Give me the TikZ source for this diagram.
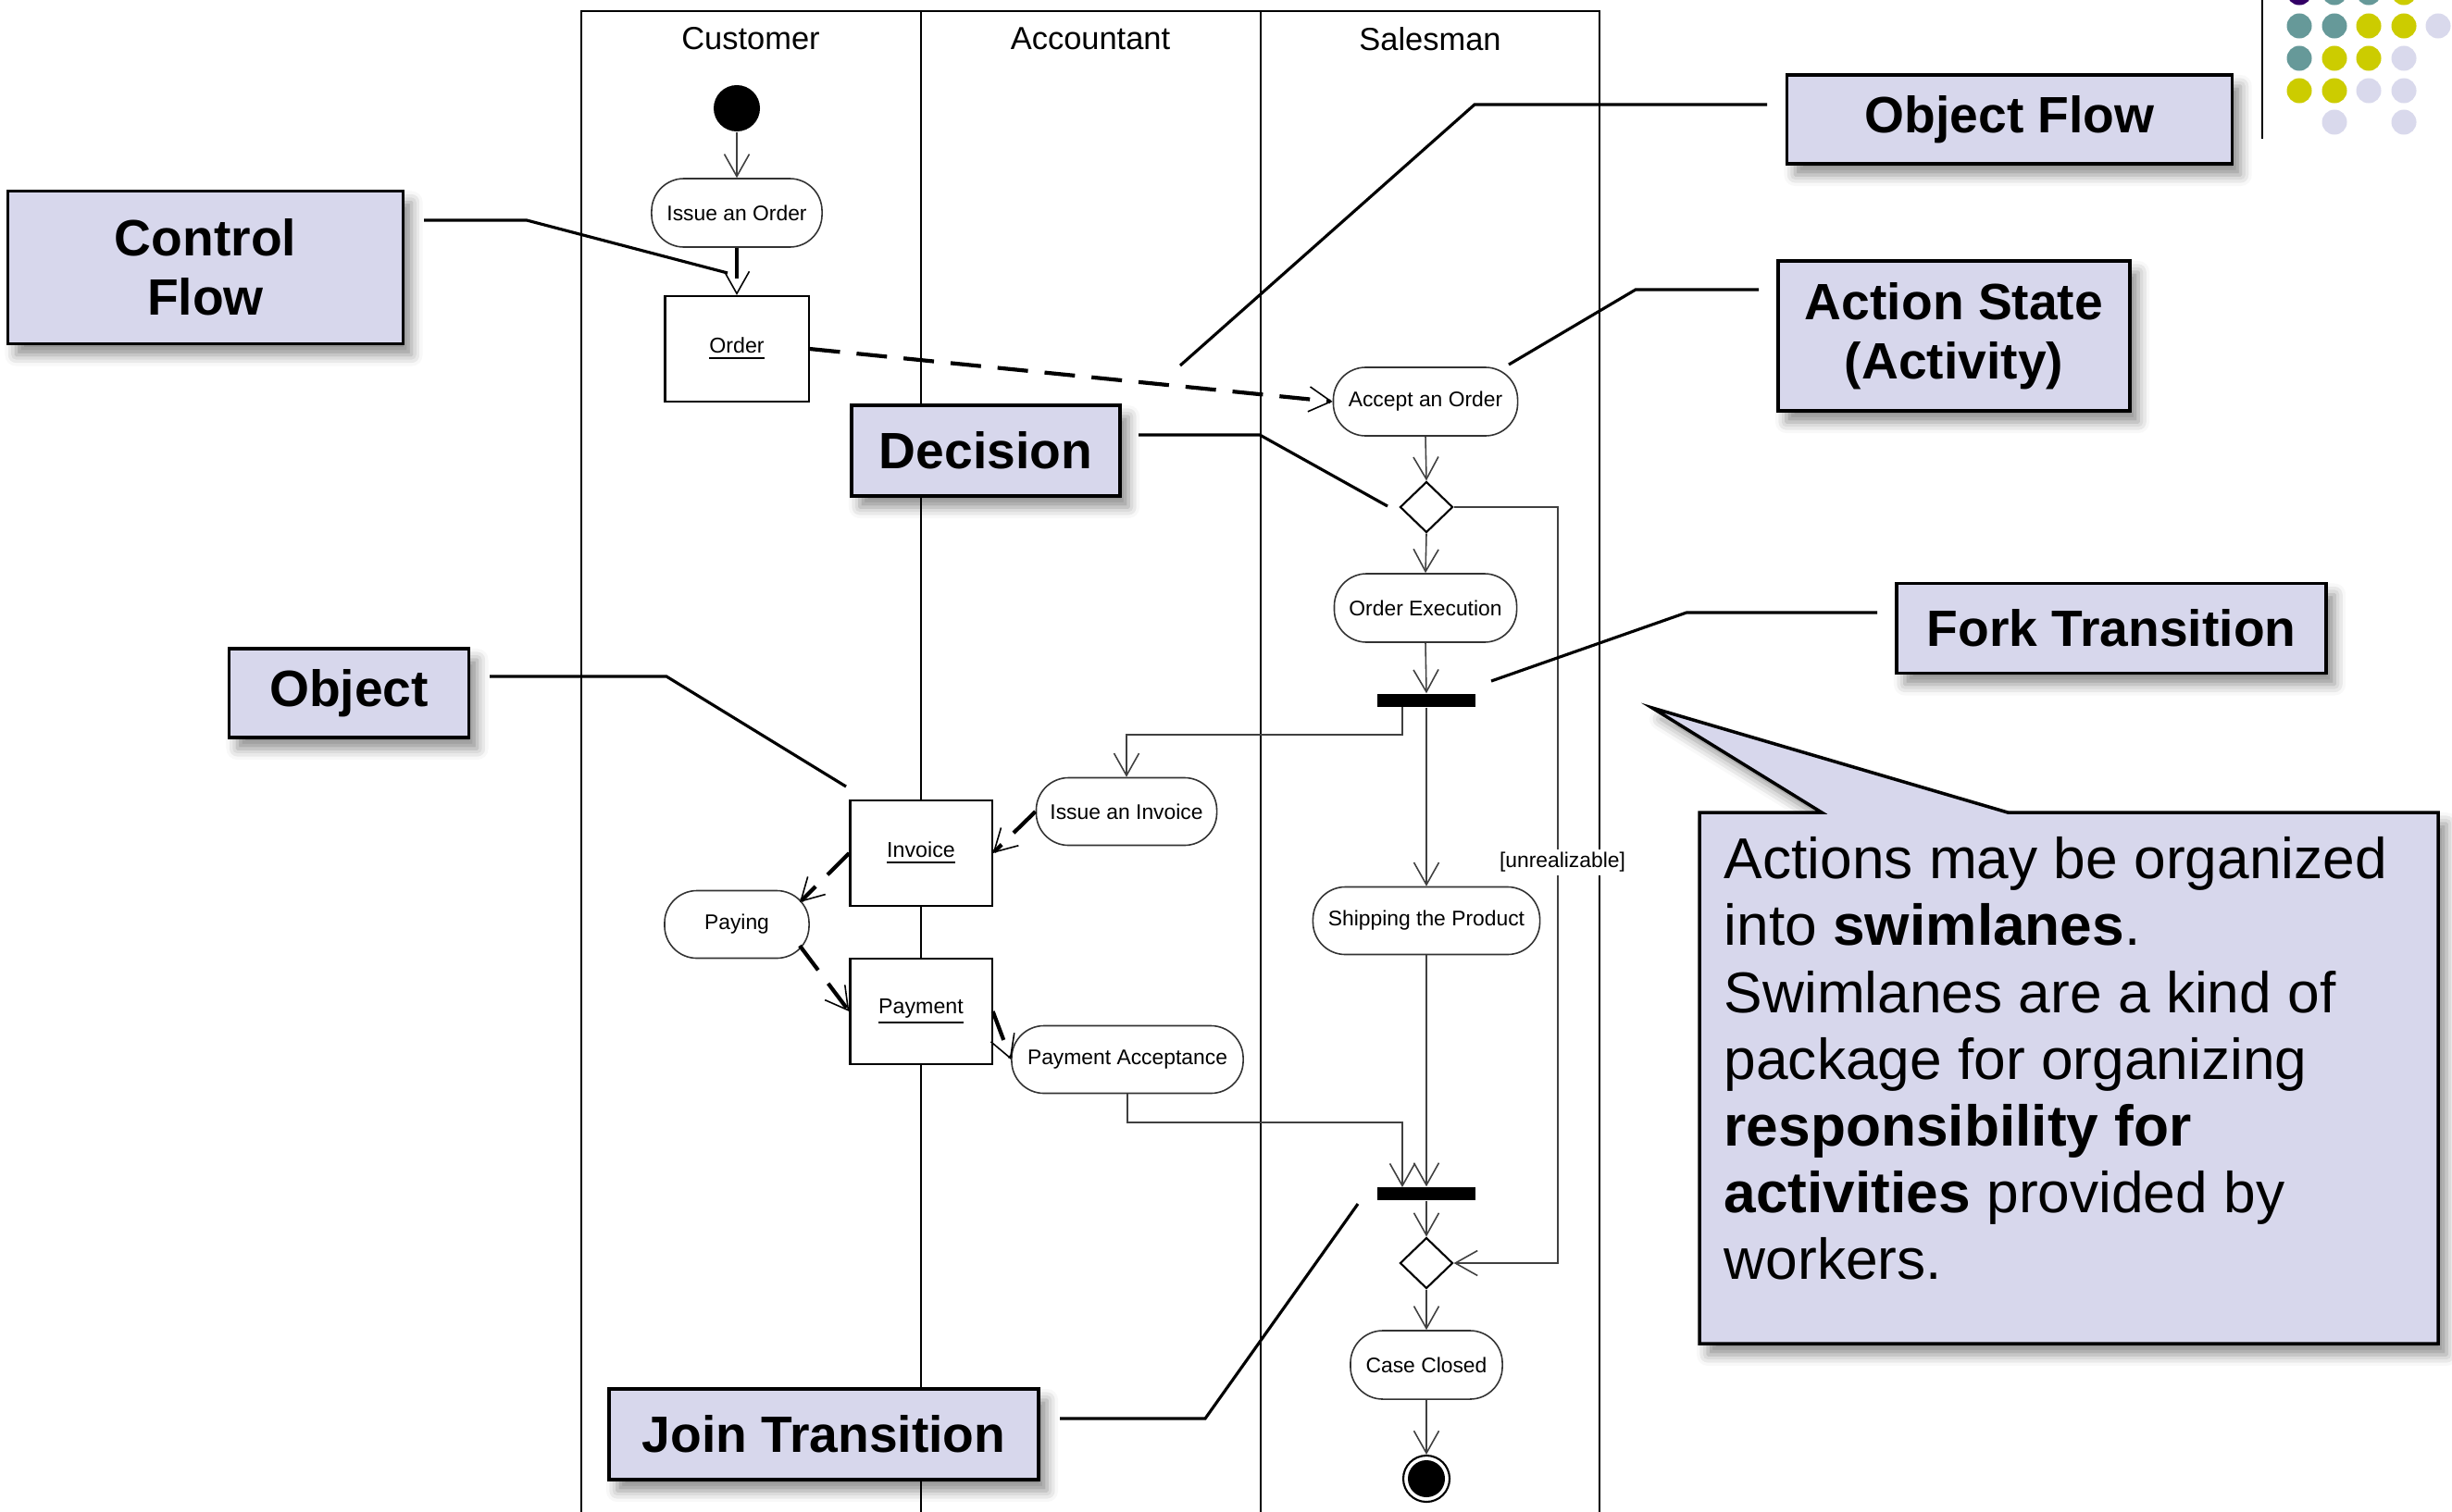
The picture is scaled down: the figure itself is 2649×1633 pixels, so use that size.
\documentclass[tikz,border=0pt]{standalone}
\usepackage{fontspec}
\setmainfont{Liberation Sans}
\usetikzlibrary{arrows.meta,shapes.geometric,shadows.blur}

\definecolor{lav}{RGB}{215,215,236}
\definecolor{dotteal}{RGB}{102,153,153}
\definecolor{dotyel}{RGB}{204,204,0}
\definecolor{dotpurp}{RGB}{51,0,102}
\definecolor{dotlav}{RGB}{217,217,236}

\begin{document}
\begin{tikzpicture}[x=0.01cm,y=-0.01cm,
  lane/.style={draw=black, line width=0.6pt},
  lanehead/.style={font=\fontsize{9.8}{11}\selectfont, inner sep=0pt},
  activity/.style={draw=black!80, line width=0.45pt, rounded corners=0.35cm,
    fill=white, inner sep=0pt, minimum height=0.74cm,
    font=\fontsize{6.5}{7.8}\selectfont},
  objbox/.style={draw=black, line width=0.6pt, fill=white, inner sep=0pt,
    minimum height=1.14cm, font=\fontsize{6.6}{7.8}\selectfont},
  decision/.style={diamond, draw=black, line width=0.6pt, fill=white,
    minimum width=0.57cm, minimum height=0.55cm, inner sep=0pt},
  bar/.style={fill=black, minimum width=1.05cm, minimum height=0.14cm, inner sep=0pt},
  flow/.style={draw=black!75, line width=0.45pt,
    -{Straight Barb[length=0.24cm,width=0.27cm]}},
  objflow/.style={draw=black, line width=1.2pt, dash pattern=on 0.33cm off 0.18cm,
    -{Straight Barb[length=0.24cm,width=0.27cm,line width=0.45pt]}},
  guard/.style={fill=white, inner sep=1pt, font=\fontsize{6.5}{7.8}\selectfont},
  note/.style={draw=black, line width=1pt, fill=lav, align=center, inner sep=0pt,
    font=\bfseries\fontsize{15.7}{18.2}\selectfont,
    blur shadow={shadow xshift=0.09cm, shadow yshift=-0.12cm,
      shadow blur radius=0.12cm, shadow opacity=45}},
  pointer/.style={draw=black, line width=0.9pt}
]
\useasboundingbox (0,0) rectangle (2649,1633);
\clip (0,0) rectangle (2649,1633);

% ---- swimlanes ----
\draw[lane] (628,1640) -- (628,12) -- (1728,12) -- (1728,1640);
\draw[lane] (995,12) -- (995,1640);
\draw[lane] (1362,12) -- (1362,1640);
\node[lanehead] (hcust) at (811,42) {Customer};
\node[lanehead] (hacct) at (1178,42) {Accountant};
\node[lanehead] (hsale) at (1545,42) {Salesman};

% ---- activity nodes ----
\node[circle, fill=black, minimum size=0.5cm, inner sep=0pt] (start) at (796,117) {};
\node[activity, minimum width=1.84cm] (issue) at (796,230) {Issue an Order};
\node[objbox, minimum width=1.55cm] (order) at (796,377) {\underline{Order}};
\node[activity, minimum width=1.99cm] (accept) at (1540,434) {Accept an Order};
\node[decision] (dec1) at (1541,548) {};
\node[activity, minimum width=1.97cm] (exec) at (1540,657) {Order Execution};
\node[bar] (fork) at (1541,757) {};
\node[activity, minimum width=1.95cm, minimum height=0.73cm] (issueinv) at (1217,877) {Issue an Invoice};
\node[activity, minimum width=2.45cm, minimum height=0.73cm] (ship) at (1541,995) {Shipping the Product};
\node[objbox, minimum width=1.53cm] (invoice) at (995,922) {\underline{Invoice}};
\node[activity, minimum width=1.56cm, minimum height=0.73cm] (paying) at (796,999) {Paying};
\node[objbox, minimum width=1.53cm] (payment) at (995,1093) {\underline{Payment}};
\node[activity, minimum width=2.50cm, minimum height=0.73cm] (payacc) at (1218,1145) {Payment Acceptance};
\node[bar] (join) at (1541,1290) {};
\node[decision] (dec2) at (1541,1365) {};
\node[activity, minimum width=1.64cm] (closed) at (1541,1475) {Case Closed};
\node[circle, draw=black, line width=0.6pt, minimum size=0.5cm, inner sep=0pt] (end) at (1541,1598) {};
\node[circle, fill=black, minimum size=0.4cm, inner sep=0pt] (endin) at (end.center) {};

% ---- control flows ----
\coordinate (forkL) at (1515,764);
\coordinate (joinL) at (1515,1283);
\coordinate (rail) at (1683,950);
\coordinate (payingNE) at (864,975);
\coordinate (payingSE) at (864,1022);

\draw[flow] (start.south) -- (issue.north);
\draw[flow] (accept.south) -- (dec1.north);
\draw[flow] (dec1.south) -- (exec.north);
\draw[flow] (exec.south) -- (fork.north);
\draw[flow] (forkL) |- (1217,794) -- (issueinv.north);
\draw[flow] (fork.south) -- (ship.north);
\draw[flow] (ship.south) -- (join.north);
\draw[flow] (payacc.south) |- (1515,1213) -- (joinL);
\draw[flow] (join.south) -- (dec2.north);
\draw[flow] (dec1.east) -| (rail) |- (dec2.east);
\draw[flow] (dec2.south) -- (closed.north);
\draw[flow] (closed.south) -- (end.north);
\node[guard] (unreal) at (1688,932) {[unrealizable]};

% ---- object flows ----
\draw[objflow] (issue.south) -- (order.north);
\draw[objflow] (order.east) -- (accept.west);
\draw[objflow] (issueinv.west) -- (invoice.east);
\draw[objflow] (invoice.west) -- (payingNE);
\draw[objflow] (payingSE) -- (payment.west);
\draw[objflow] (payment.east) -- (payacc.west);

% ---- explanatory labels ----
\node[note, minimum width=4.27cm, minimum height=1.65cm] (cflow) at (222,289) {Control\\Flow};
\node[note, minimum width=4.81cm, minimum height=0.96cm] (oflow) at (2171,129) {Object Flow};
\node[note, minimum width=3.80cm, minimum height=1.62cm] (astate) at (2111,363) {Action State\\(Activity)};
\node[note, minimum width=2.90cm, minimum height=0.98cm] (ldec) at (1065,487) {Decision};
\node[note, minimum width=4.64cm, minimum height=0.97cm] (lfork) at (2281,679) {Fork Transition};
\node[note, minimum width=2.59cm, minimum height=0.96cm] (lobj) at (377,749) {Object};
\node[note, minimum width=4.64cm, minimum height=0.98cm] (ljoin) at (890,1550) {Join Transition};

\coordinate (cfA) at (458,238);  \coordinate (cfB) at (569,238);  \coordinate (cfC) at (786,295);
\coordinate (ofA) at (1909,113); \coordinate (ofB) at (1593,113); \coordinate (ofC) at (1275,395);
\coordinate (asA) at (1900,313); \coordinate (asB) at (1767,313); \coordinate (asC) at (1630,394);
\coordinate (dcA) at (1230,470); \coordinate (dcB) at (1361,470); \coordinate (dcC) at (1499,547);
\coordinate (fkA) at (2028,662); \coordinate (fkB) at (1822,662); \coordinate (fkC) at (1611,736);
\coordinate (obA) at (529,731);  \coordinate (obB) at (720,731);  \coordinate (obC) at (914,850);
\coordinate (jnA) at (1145,1533); \coordinate (jnB) at (1302,1533); \coordinate (jnC) at (1467,1301);

\draw[pointer] (cfA) -- (cfB) -- (cfC);
\draw[pointer] (ofA) -- (ofB) -- (ofC);
\draw[pointer] (asA) -- (asB) -- (asC);
\draw[pointer] (dcA) -- (dcB) -- (dcC);
\draw[pointer] (fkA) -- (fkB) -- (fkC);
\draw[pointer] (obA) -- (obB) -- (obC);
\draw[pointer] (jnA) -- (jnB) -- (jnC);

% ---- swimlane callout ----
\path[draw=black, line width=1pt, fill=lav,
  blur shadow={shadow xshift=0.09cm, shadow yshift=-0.12cm,
    shadow blur radius=0.12cm, shadow opacity=45}]
  (1836,878) -- (1968,878) -- (1785,765) -- (2169,878) -- (2634,878)
  -- (2634,1452) -- (1836,1452) -- cycle;
\node[anchor=north west, inner sep=0pt, align=left,
  font=\fontsize{17.7}{20.5}\selectfont] (swim) at (1862,904)
  {Actions may be organized\\
   into \textbf{swimlanes}.\\
   Swimlanes are a kind of\\
   package for organizing\\
   \textbf{responsibility for}\\
   \textbf{activities} provided by\\
   workers.};

% ---- corner ornament ----
\draw[black, line width=0.7pt] (2444,0) -- (2444,150);
\foreach \x/\y/\c in {2484/-8/dotpurp, 2522/-8/dotteal, 2559/-8/dotteal, 2597/-8/dotyel,
  2484/28/dotteal, 2522/28/dotteal, 2559/28/dotyel, 2597/28/dotyel, 2634/28/dotlav,
  2484/63/dotteal, 2522/63/dotyel, 2559/63/dotyel, 2597/63/dotlav,
  2484/98/dotyel, 2522/98/dotyel, 2559/98/dotlav, 2597/98/dotlav,
  2522/132/dotlav, 2597/132/dotlav}
  \fill[\c] (\x,\y) circle (0.135cm);
\end{tikzpicture}
\end{document}
